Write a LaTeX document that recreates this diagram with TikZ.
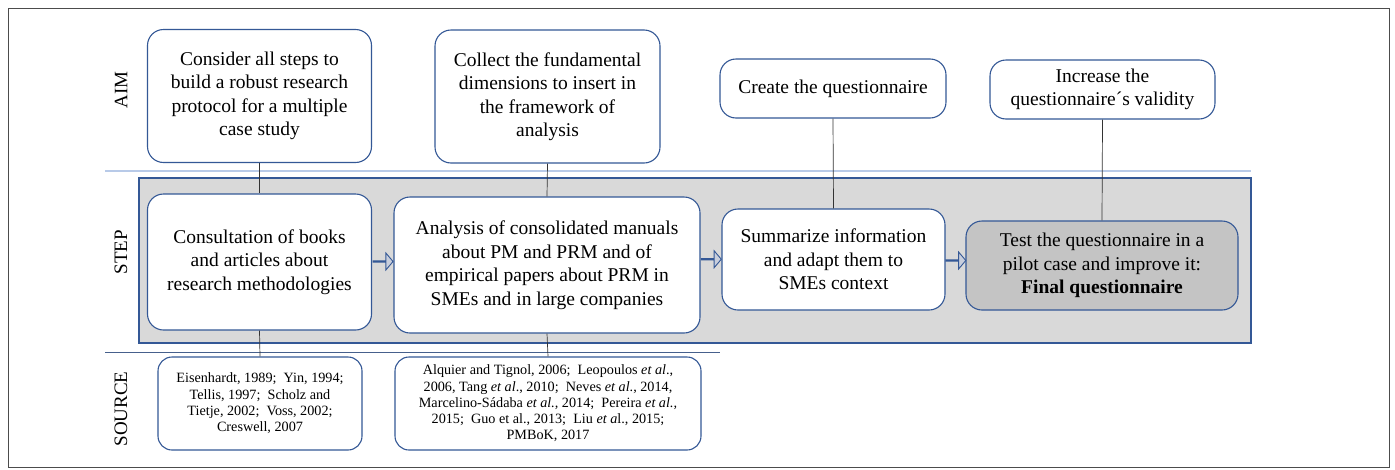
\documentclass[tikz,border=0pt]{standalone}
\usepackage{fontspec}
\setmainfont{Liberation Serif}
\usetikzlibrary{shapes.arrows,calc}
\definecolor{boxblue}{RGB}{52,88,150}
\definecolor{sepblue}{RGB}{184,202,232}
\definecolor{darksep}{RGB}{70,96,140}
\definecolor{areagrey}{RGB}{217,217,217}
\definecolor{finalgrey}{RGB}{196,196,196}
\definecolor{arrowfill}{RGB}{200,206,220}
\tikzset{
  x=1pt,y=-1pt,
  mainbox/.style={draw=boxblue, line width=1.1pt, rounded corners=16pt, fill=white,
    align=center, inner sep=0pt, font=\fontsize{19.5}{23.5}\selectfont},
  srcbox/.style={draw=boxblue, line width=1.1pt, rounded corners=14pt, fill=white,
    align=center, inner sep=0pt, font=\fontsize{14.2}{16.3}\selectfont},
  rowlabel/.style={rotate=90, font=\fontsize{19}{22}\selectfont},
  conn/.style={draw=black!80, line width=0.7pt},
  blockarrow/.style={single arrow, draw=boxblue, fill=arrowfill, line width=0.9pt,
    minimum height=20pt, minimum width=17pt, single arrow head extend=5.5pt,
    single arrow tip angle=100, single arrow head indent=0pt, inner sep=0pt},
}
\begin{document}
\begin{tikzpicture}
\useasboundingbox (0,0) rectangle (1395,469);
\fill[white] (0,0) rectangle (1395,469);
\draw[black!70, line width=1pt] (8.5,8.5) rectangle (1389.5,467);
% row labels
\node[rowlabel] (laim) at (121,90) {AIM};
\node[rowlabel] (lstep) at (121,252) {STEP};
\node[rowlabel] (lsrc) at (121,409) {SOURCE};
% separators
\coordinate (sepAl) at (105,171);
\coordinate (sepAr) at (1251,171);
\draw[sepblue, line width=2.2pt] (sepAl) -- (sepAr);
\coordinate (sepBl) at (105,352);
\coordinate (sepBr) at (720,352);
\draw[darksep, line width=1pt] (sepBl) -- (sepBr);
% step area
\node[draw=boxblue, fill=areagrey, line width=1.1pt, minimum width=1112pt, minimum height=165pt, inner sep=0pt] (area) at (695,260.5) {};
% aim boxes
\node[mainbox, minimum width=224pt, minimum height=133pt] (a1) at (259.5,96) {Consider all steps to\\build a robust research\\protocol for a multiple\\case study};
\node[mainbox, minimum width=225pt, minimum height=133pt] (a2) at (547.5,96.5) {Collect the fundamental\\dimensions to insert in\\the framework of\\analysis};
\node[mainbox, minimum width=226pt, minimum height=59pt] (a3) at (833,88.5) {Create the questionnaire};
\node[mainbox, minimum width=225pt, minimum height=59pt] (a4) at (1102.5,89.5) {Increase the\\questionnaire´s validity};
% step boxes
\node[mainbox, minimum width=224pt, minimum height=136pt] (s1) at (259.5,262) {Consultation of books\\and articles about\\research methodologies};
\node[mainbox, minimum width=306pt, minimum height=136pt] (s2) at (547,265) {Analysis of consolidated manuals\\about PM and PRM and of\\empirical papers about PRM in\\SMEs and in large companies};
\node[mainbox, minimum width=223pt, minimum height=101pt] (s3) at (833.5,259.5) {Summarize information\\and adapt them to\\SMEs context};
\node[mainbox, fill=finalgrey, minimum width=272pt, minimum height=89pt] (s4) at (1102,265.5) {Test the questionnaire in a\\pilot case and improve it:\\\textbf{Final questionnaire}};
% source boxes
\node[srcbox, minimum width=204pt, minimum height=93pt] (r1) at (260,403.5) {Eisenhardt, 1989;\ \ Yin, 1994;\\Tellis, 1997;\ \ Scholz and\\Tietje, 2002;\ \ Voss, 2002;\\Creswell, 2007};
\node[srcbox, minimum width=306pt, minimum height=93pt] (r2) at (548,403.5) {Alquier and Tignol, 2006;\ \ Leopoulos \textit{et al}.,\\2006, Tang \textit{et al}., 2010;\ \ Neves \textit{et al}., 2014,\\Marcelino-Sádaba \textit{et al.,} 2014;\ \ Pereira \textit{et al.,}\\2015;\ \ Guo et al., 2013;\ \ Liu \textit{et a}l., 2015;\\PMBoK, 2017};
% connectors
\draw[conn] (a1.south) -- (s1.north);
\draw[conn] (s1.south) -- (r1.north);
\draw[conn] (a2.south) -- (s2.north);
\draw[conn] (s2.south) -- (r2.north);
\draw[conn] (a3.south) -- (s3.north);
\draw[conn] (a4.south) -- (s4.north);
% block arrows
\node[blockarrow] (ar1) at ($(s1.east)!0.5!(s2.west)+(0,-2)$) {};
\node[blockarrow] (ar2) at ($(s2.east)!0.5!(s3.west)+(0,-3)$) {};
\node[blockarrow] (ar3) at ($(s3.east)!0.5!(s4.west)+(0,-2)$) {};
\end{tikzpicture}
\end{document}
